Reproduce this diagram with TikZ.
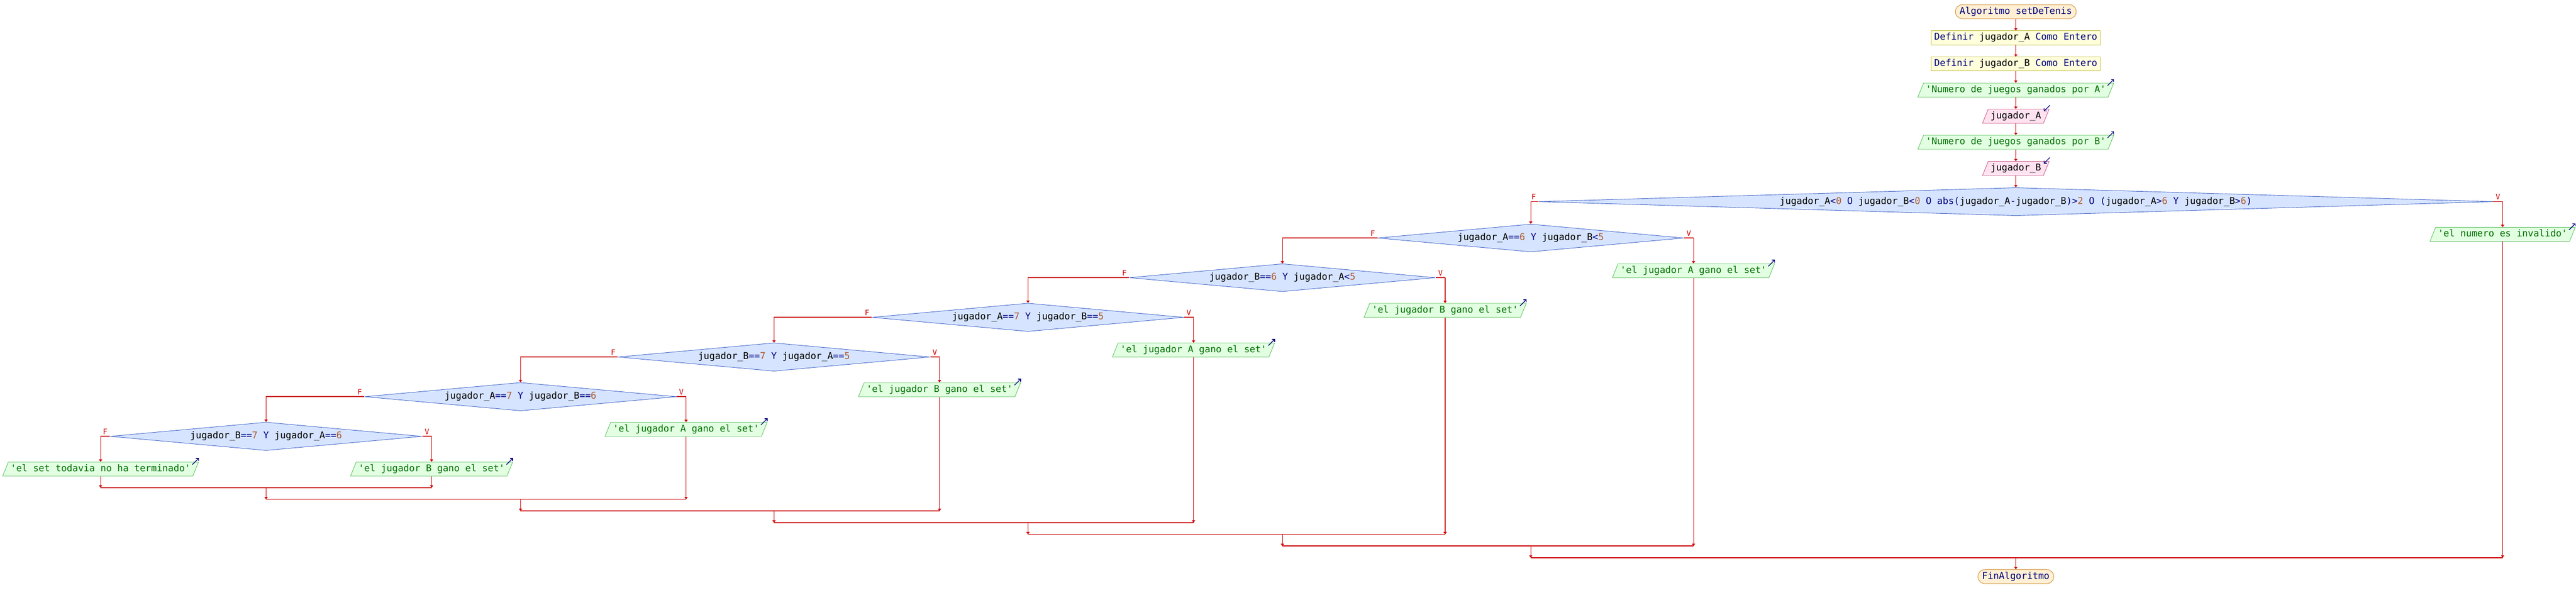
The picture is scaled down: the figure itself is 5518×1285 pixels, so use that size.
\documentclass[tikz,border=0pt]{standalone}
\usepackage{fontspec}
\setmonofont{DejaVu Sans Mono}
\usetikzlibrary{arrows.meta, positioning, shapes.geometric}

\definecolor{flowred}{HTML}{CC0000}
\definecolor{kwblue}{HTML}{000080}
\definecolor{numbrown}{HTML}{B05C30}
\definecolor{strgreen}{HTML}{007000}
\definecolor{termfill}{HTML}{FFF0D4}
\definecolor{termdraw}{HTML}{CC8A2E}
\definecolor{procfill}{HTML}{FFFFDC}
\definecolor{procdraw}{HTML}{C4BC3C}
\definecolor{outfill}{HTML}{E2FFE2}
\definecolor{outdraw}{HTML}{5CBF5C}
\definecolor{infill}{HTML}{FFE2F0}
\definecolor{indraw}{HTML}{CC5588}
\definecolor{condfill}{HTML}{D6E4FF}
\definecolor{conddraw}{HTML}{4466C8}

\newcommand{\kwd}[1]{\textcolor{kwblue}{#1}}
\newcommand{\numc}[1]{\textcolor{numbrown}{#1}}

\begin{document}
\begin{tikzpicture}[
        % one unit is one pixel of the chart, y runs downwards
        x=0.5pt, y=-0.5pt,
        % Node styles
        fcbox/.style={
                font=\ttfamily\fontsize{10}{12}\selectfont,
                text height=7.5pt, text depth=2.5pt, inner ysep=2.5pt,
                line width=0.5pt,
            },
        terminal/.style={
                fcbox, draw=termdraw, fill=termfill, text=kwblue,
                rounded corners=7.5pt, inner xsep=4.5pt,
            },
        process/.style={
                fcbox, draw=procdraw, fill=procfill, inner xsep=3.25pt,
            },
        iobox/.style={
                fcbox, trapezium, trapezium left angle=68,
                trapezium right angle=112, inner xsep=2.5pt,
            },
        outbox/.style={iobox, draw=outdraw, fill=outfill, text=strgreen},
        inbox/.style={iobox, draw=indraw, fill=infill},
        cond/.style={
                fcbox, diamond, aspect=11, draw=conddraw, fill=condfill,
                inner xsep=3.25pt,
            },
        branch label/.style={
                font=\ttfamily\fontsize{8}{9}\selectfont, text=flowred,
                inner sep=1pt, anchor=south,
            },
        % Edge/arrow styles
        flow/.style={
                draw=flowred, line width=0.6pt,
                -{Triangle[length=2.5pt, width=3.5pt]},
            },
        stub/.style={draw=flowred, line width=1pt},
        iomark/.style={
                draw=kwblue, line width=0.75pt,
                -{Straight Barb[length=2pt, width=4pt]},
            },
    ]
    \useasboundingbox (0,0) rectangle (5518,1285);

    % --- Main column ---
    \node[terminal] (start) at (4318,25) {Algoritmo setDeTenis};
    \node[process, below=12.5pt of start] (defa) {\kwd{Definir} jugador\_A \kwd{Como Entero}};
    \node[process, below=12.5pt of defa] (defb) {\kwd{Definir} jugador\_B \kwd{Como Entero}};
    \node[outbox, below=12.5pt of defb] (aska) {'Numero de juegos ganados por A'};
    \node[inbox, below=12.5pt of aska] (reada) {jugador\_A};
    \node[outbox, below=12.5pt of reada] (askb) {'Numero de juegos ganados por B'};
    \node[inbox, below=12.5pt of askb] (readb) {jugador\_B};
    \node[cond, aspect=34, below=12.5pt of readb] (d1)
    {jugador\_A\kwd{<}\numc{0} \kwd{O} jugador\_B\kwd{<}\numc{0} \kwd{O} \kwd{abs(}jugador\_A\kwd{-}jugador\_B\kwd{)>}\numc{2} \kwd{O} \kwd{(}jugador\_A\kwd{>}\numc{6} \kwd{Y} jugador\_B\kwd{>}\numc{6}\kwd{)}};

    % --- Nested conditions, each one on the F side of the last ---
    \node[cond] (d2) at (3279,510) {jugador\_A\kwd{==}\numc{6} \kwd{Y} jugador\_B\kwd{<}\numc{5}};
    \node[cond] (d3) at (2747,595) {jugador\_B\kwd{==}\numc{6} \kwd{Y} jugador\_A\kwd{<}\numc{5}};
    \node[cond] (d4) at (2202,680) {jugador\_A\kwd{==}\numc{7} \kwd{Y} jugador\_B\kwd{==}\numc{5}};
    \node[cond] (d5) at (1658,765) {jugador\_B\kwd{==}\numc{7} \kwd{Y} jugador\_A\kwd{==}\numc{5}};
    \node[cond] (d6) at (1115,850) {jugador\_A\kwd{==}\numc{7} \kwd{Y} jugador\_B\kwd{==}\numc{6}};
    \node[cond] (d7) at (570,935) {jugador\_B\kwd{==}\numc{7} \kwd{Y} jugador\_A\kwd{==}\numc{6}};

    % --- Outputs on the V side ---
    \node[outbox] (o1) at ([shift={(20,70)}]d1.east) {'el numero es invalido'};
    \node[outbox] (o2) at ([shift={(20,70)}]d2.east) {'el jugador A gano el set'};
    \node[outbox] (o3) at ([shift={(20,70)}]d3.east) {'el jugador B gano el set'};
    \node[outbox] (o4) at ([shift={(20,70)}]d4.east) {'el jugador A gano el set'};
    \node[outbox] (o5) at ([shift={(20,70)}]d5.east) {'el jugador B gano el set'};
    \node[outbox] (o6) at ([shift={(20,70)}]d6.east) {'el jugador A gano el set'};
    \node[outbox] (o7v) at ([shift={(20,70)}]d7.east) {'el jugador B gano el set'};
    \node[outbox] (o7f) at ([shift={(-20,70)}]d7.west) {'el set todavia no ha terminado'};

    % output / input marks
    \foreach \o in {aska, askb, o1, o2, o3, o4, o5, o6, o7v, o7f} {
            \draw[iomark] ([shift={(-14,6)}]\o.top right corner) -- ++(14,-14);
        }
    \foreach \i in {reada, readb} {
            \draw[iomark] ([shift={(1,-8)}]\i.top right corner) -- ++(-13,13);
        }

    % --- Main column arrows ---
    \draw[flow] (start) -- (defa);
    \draw[flow] (defa) -- (defb);
    \draw[flow] (defb) -- (aska);
    \draw[flow] (aska) -- (reada);
    \draw[flow] (reada) -- (askb);
    \draw[flow] (askb) -- (readb);
    \draw[flow] (readb) -- (d1);

    % --- Branches: F to the left, V to the right ---
    \foreach \d/\next in {d1/d2, d2/d3, d3/d4, d4/d5, d5/d6, d6/d7} {
            \draw[stub] (\d.west) -- (\d.west -| \next);
            \draw[flow] (\d.west -| \next) -- (\next);
            \node[branch label] (f\d) at ([shift={(-10,-2)}]\d.west) {F};
        }
    \draw[stub] (d7.west) -- (d7.west -| o7f);
    \draw[flow] (d7.west -| o7f) -- (o7f);
    \node[branch label] (fd7) at ([shift={(-10,-2)}]d7.west) {F};

    \foreach \d/\o in {d1/o1, d2/o2, d3/o3, d4/o4, d5/o5, d6/o6, d7/o7v} {
            \draw[stub] (\d.east) -- (\d.east -| \o);
            \draw[flow] (\d.east -| \o) -- (\o);
            \node[branch label] (v\d) at ([shift={(10,-2)}]\d.east) {V};
        }

    % --- Joins below each condition ---
    \coordinate (j7) at (d7 |- 0,1045);
    \coordinate (j6) at (d6 |- 0,1070);
    \coordinate (j5) at (d5 |- 0,1095);
    \coordinate (j4) at (d4 |- 0,1120);
    \coordinate (j3) at (d3 |- 0,1145);
    \coordinate (j2) at (d2 |- 0,1170);
    \coordinate (j1) at (d1 |- 0,1195);

    \draw[flow] (o7f) -- (o7f |- j7);
    \draw[flow] (o7v) -- (o7v |- j7);
    \draw[stub] (o7f |- j7) -- (o7v |- j7);

    \foreach \j/\up/\o in {6/7/o6, 5/6/o5, 4/5/o4, 3/4/o3, 2/3/o2, 1/2/o1} {
            \draw[flow] (j\up) -- (j\up |- j\j);
            \draw[flow] (\o) -- (\o |- j\j);
            \draw[stub] (j\up |- j\j) -- (\o |- j\j);
        }

    \node[terminal, below=12.5pt of j1] (end) {FinAlgoritmo};
    \draw[flow] (j1) -- (end);

\end{tikzpicture}
\end{document}
